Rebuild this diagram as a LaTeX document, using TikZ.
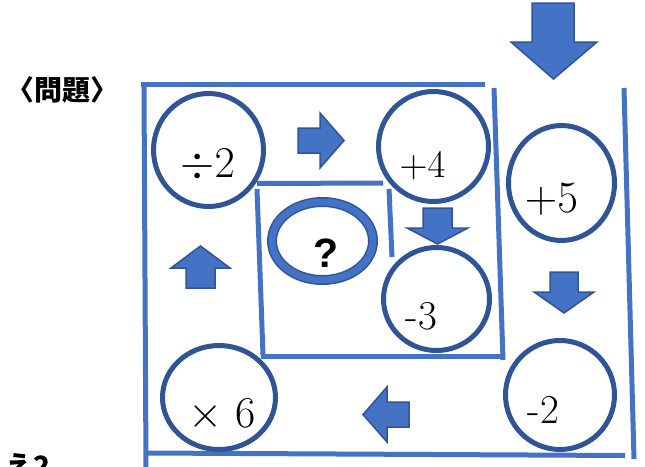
\RequirePackage{fix-cm}
\documentclass[tikz,border=0pt]{standalone}
\usepackage{fontspec}
\newfontfamily\cjk{Noto Sans CJK JP}
\newfontfamily\qfont{Liberation Sans}
\usetikzlibrary{shapes.geometric}
\definecolor{lineblue}{RGB}{68,114,196}
\definecolor{darkblue}{RGB}{47,85,151}
\tikzset{
  frame/.style={draw=lineblue, line width=5pt},
  ring/.style={ellipse, draw=darkblue, line width=5pt, fill=white, inner sep=0pt},
  blockarrow/.style={fill=lineblue, draw=darkblue, line width=1.5pt, line join=miter},
  optext/.style={inner sep=0pt, anchor=base, text=black},
  cjktext/.style={inner sep=0pt, text=black, font=\cjk\bfseries\fontsize{28}{28}\selectfont},
}
\begin{document}
\begin{tikzpicture}[x=1pt,y=-1pt]
\useasboundingbox (0,0) rectangle (645,466);
\clip (0,0) rectangle (645,466);

% frame lines
\draw[frame] (141,84) -- (485,84);
\draw[frame] (144,87) -- (146,470);
\draw[frame] (146,453) -- (625,455.5);
\draw[frame] (624,88) -- (634,459);
\draw[frame] (494,88) -- (503,360);
\draw[frame] (257,183.5) -- (383,183);
\draw[frame] (257,189) -- (263,355);
\draw[frame] (261,356) -- (502,356);
\draw[frame] (389,189) -- (392,257);

% arrows
\draw[blockarrow] (298,128) -- (320,128) -- (320,113) -- (344,140.5) -- (320,168) -- (320,153) -- (298,153) -- cycle;
\draw[blockarrow] (423,208) -- (452,208) -- (452,228) -- (468,228) -- (437.5,244) -- (407,228) -- (423,228) -- cycle;
\draw[blockarrow] (532,3) -- (574,3) -- (574,42) -- (597,42) -- (553.5,79) -- (511,42) -- (532,42) -- cycle;
\draw[blockarrow] (200.5,246) -- (230,268) -- (215,268) -- (215,288) -- (186,288) -- (186,268) -- (171,268) -- cycle;
\draw[blockarrow] (550,272) -- (578,272) -- (578,292) -- (594,292) -- (564,313) -- (534,292) -- (550,292) -- cycle;
\draw[blockarrow] (363,414.5) -- (387,387) -- (387,402) -- (409,402) -- (409,427) -- (387,427) -- (387,442) -- cycle;

% circles
\node[ring, minimum width=110pt, minimum height=113pt] (cdiv) at (208.5,150) {};
\node[ring, minimum width=110pt, minimum height=110pt] (cp4) at (433.5,146.5) {};
\node[ring, minimum width=106pt, minimum height=115pt] (cp5) at (561.5,183) {};
\node[ring, minimum width=106pt, minimum height=103pt] (cm3) at (436.5,299) {};
\node[ring, minimum width=109pt, minimum height=109pt] (cm2) at (560,395) {};
\node[ring, minimum width=113pt, minimum height=104pt] (cx6) at (219,397.5) {};
\node[ellipse, draw=darkblue, double=lineblue, double distance=7pt, line width=1.5pt, fill=white, inner sep=0pt, minimum width=101pt, minimum height=78pt] (cq) at (322.5,241) {};

% texts
\node[optext, font=\fontsize{44}{44}\selectfont] (tdiv) at (207.5,177) {$\div2$};
\node[optext, font=\fontsize{39}{39}\selectfont] (tp4) at (422.5,177) {$+4$};
\node[optext, font=\fontsize{45}{45}\selectfont] (tp5) at (551.5,212) {$+5$};
\node[optext, font=\fontsize{41}{41}\selectfont] (tm3) at (421.5,329) {-3};
\node[optext, font=\fontsize{41}{41}\selectfont] (tm2) at (543.5,423) {-2};
\node[optext, font=\fontsize{44}{44}\selectfont] (tx6) at (222,427) {$\times$ 6};
\node[optext, font=\qfont\bfseries\fontsize{41}{41}\selectfont] (tq) at (326,267) {?};

\node[cjktext, anchor=base] (title) at (62,100) {〈問題〉};
\node[cjktext, anchor=base east] (tail) at (51,476) {え2};
\end{tikzpicture}
\end{document}
